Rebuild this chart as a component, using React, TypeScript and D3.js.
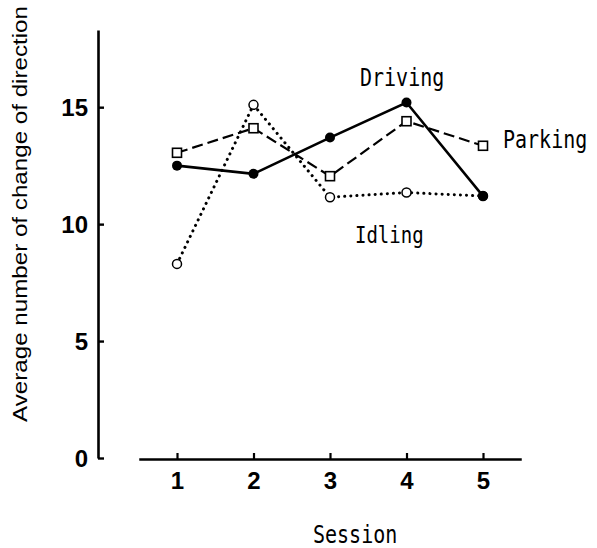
import { useEffect, useRef } from 'react';
import * as d3 from 'd3';

const sessions = [1, 2, 3, 4, 5];
const driving = [12.5, 12.15, 13.7, 15.2, 11.2];
const parking = [13.05, 14.1, 12.05, 14.4, 13.35];
const idling = [8.3, 15.1, 11.15, 11.35, 11.2];
const yTicks = [0, 5, 10, 15];

const W = 597;
const H = 548;

export default function App() {
  const svgRef = useRef<SVGSVGElement>(null);

  useEffect(() => {
    if (!svgRef.current) return;
    const svg = d3.select(svgRef.current);
    svg.selectAll('*').remove();

    const x = d3.scaleLinear().domain([0.5, 5.5]).range([138.75, 521.25]);
    const y = d3.scaleLinear().domain([0, 18.3]).range([458, 30]);

    // y axis, ticks point inward
    const yAxis = d3.axisLeft(y).tickValues(yTicks).tickFormat(d3.format('d'))
      .tickSizeInner(-6).tickSizeOuter(0).tickPadding(10);
    svg.append('g')
      .attr('transform', 'translate(98,0)')
      .call(yAxis)
      .call(g => g.select('.domain').attr('stroke', '#000').attr('stroke-width', 2.6))
      .call(g => g.selectAll('line').attr('stroke', '#000').attr('stroke-width', 2.4))
      .call(g => g.selectAll('text')
        .attr('fill', '#000')
        .attr('font-family', 'Liberation Sans, Arial, sans-serif')
        .attr('font-weight', 'bold')
        .attr('font-size', 24)
        .attr('dy', '0.36em'));

    const xAxis = d3.axisBottom(x).tickValues(sessions).tickFormat(d3.format('d'))
      .tickSizeInner(-6).tickSizeOuter(0).tickPadding(21);
    svg.append('g')
      .attr('transform', 'translate(0,459)')
      .call(xAxis)
      .call(g => g.select('.domain').attr('stroke', '#000').attr('stroke-width', 2.6))
      .call(g => g.selectAll('line').attr('stroke', '#000').attr('stroke-width', 2.2))
      .call(g => g.selectAll('text')
        .attr('fill', '#000')
        .attr('font-family', 'Liberation Sans, Arial, sans-serif')
        .attr('font-weight', 'bold')
        .attr('font-size', 24)
        .attr('dy', '0.36em'));

    const line = d3.line<number>().x((_, i) => x(sessions[i])).y(d => y(d));

    svg.append('path').datum(parking).attr('d', line)
      .attr('fill', 'none').attr('stroke', '#000').attr('stroke-width', 2.2)
      .attr('stroke-dasharray', '11,5');
    svg.append('path').datum(idling).attr('d', line)
      .attr('fill', 'none').attr('stroke', '#000').attr('stroke-width', 3)
      .attr('stroke-linecap', 'round').attr('stroke-dasharray', '0.1,6');
    svg.append('path').datum(driving).attr('d', line)
      .attr('fill', 'none').attr('stroke', '#000').attr('stroke-width', 2.6);

    svg.append('g').selectAll('rect').data(parking).join('rect')
      .attr('x', (_, i) => x(sessions[i]) - 4.5)
      .attr('y', d => y(d) - 4.5)
      .attr('width', 9).attr('height', 9)
      .attr('fill', '#fff').attr('stroke', '#000').attr('stroke-width', 1.6);
    svg.append('g').selectAll('circle').data(idling).join('circle')
      .attr('cx', (_, i) => x(sessions[i])).attr('cy', d => y(d)).attr('r', 4.5)
      .attr('fill', '#fff').attr('stroke', '#000').attr('stroke-width', 1.5);
    svg.append('g').selectAll('circle').data(driving).join('circle')
      .attr('cx', (_, i) => x(sessions[i])).attr('cy', d => y(d)).attr('r', 5)
      .attr('fill', '#000');

    // narrow, tall typewriter-like labels: mono font stretched vertically
    const mono = 'DejaVu Sans Mono, monospace';
    const label = (t: string, px: number, py: number, size = 20) =>
      svg.append('text')
        .attr('transform', `translate(${px},${py}) scale(1,1.25)`)
        .attr('font-family', mono).attr('font-size', size).attr('fill', '#000')
        .text(t);

    label('Driving', 360, 86);
    label('Parking', 503, 148);
    label('Idling', 355, 243, 19);
    label('Session', 313, 543);

    svg.append('text')
      .attr('transform', 'translate(27,422) rotate(-90)')
      .attr('font-family', 'Liberation Sans, Arial, sans-serif')
      .attr('font-size', 20).attr('fill', '#000')
      .attr('textLength', 416).attr('lengthAdjust', 'spacingAndGlyphs')
      .text('Average number of change of direction');
  }, []);

  return (
    <svg ref={svgRef} width={W} height={H}
      style={{ position: 'absolute', left: 0, top: 0, background: '#fff' }} />
  );
}
